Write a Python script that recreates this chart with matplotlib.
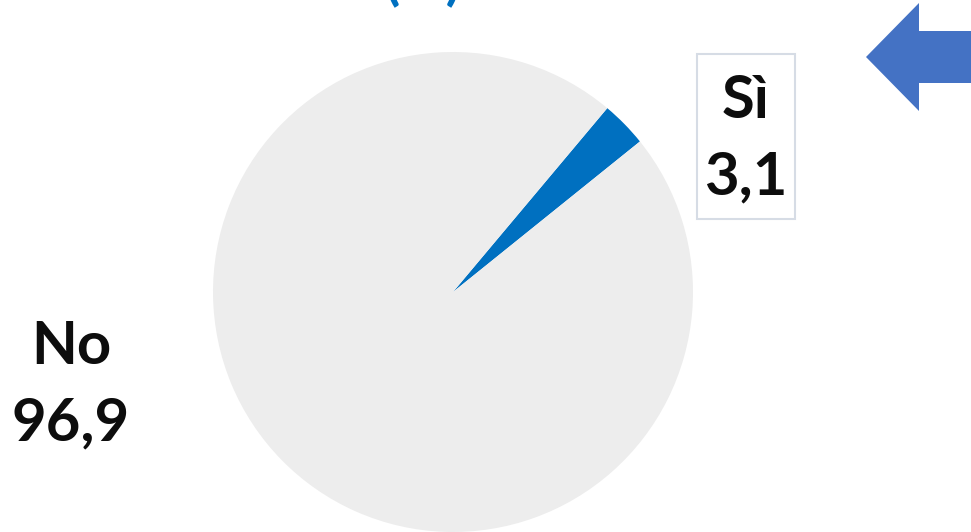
import matplotlib.pyplot as plt
from matplotlib.patches import FancyArrow, Rectangle

# data
labels = ['Sì', 'No']
values = [3.1, 96.9]
colors = ['#0070C0', '#EDEDED']

W, H = 971, 532


def fmt(v):
    return f'{v:.1f}'.replace('.', ',')


def create_pie():
    fig = plt.figure(figsize=(W / 100, H / 100), dpi=100)
    ax = fig.add_axes([0, 0, 1, 1])

    # pie, centre in pixel coords (y measured from bottom)
    ax.pie(values, colors=colors, startangle=50, counterclock=False,
           center=(453, H - 292), radius=240, frame=True,
           wedgeprops=dict(linewidth=0))
    ax.set_xlim(0, W)
    ax.set_ylim(0, H)
    ax.set_aspect('equal')
    ax.axis('off')

    font = dict(family=['Lato', 'DejaVu Sans'], fontweight='bold',
                fontsize=43, color='#0D0D0D', ha='center', va='center')

    # Sì label in a box
    ax.add_patch(Rectangle((697, H - 219), 98, 165, facecolor='white',
                           edgecolor='#D6DCE5', linewidth=1.5))
    ax.text(746, H - 101, labels[0], **font)
    ax.text(746, H - 177, fmt(values[0]), **font)

    # No label
    ax.text(71, H - 347, labels[1], **font)
    ax.text(71, H - 423, fmt(values[1]), **font)

    # title cut off at top, as in the source
    ax.text(423, H + 1, '(%)', family=['Lato', 'DejaVu Sans'],
            fontweight='bold', fontsize=40, color='#0070C0',
            ha='center', va='baseline', clip_on=True)

    # arrow top right
    ax.add_patch(FancyArrow(980, H - 57, -114, 0, width=52, head_width=108,
                            head_length=53, length_includes_head=True,
                            color='#4472C4', linewidth=0))

    fig.savefig('out.png', dpi=100)
    plt.close(fig)


if __name__ == "__main__":
    create_pie()
